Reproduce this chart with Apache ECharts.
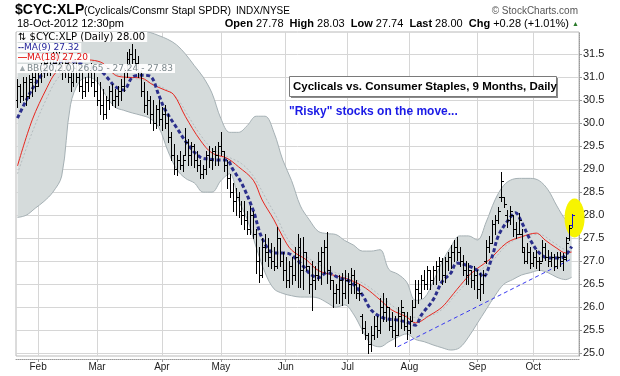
<!DOCTYPE html>
<html><head><meta charset="utf-8">
<script src="https://cdn.jsdelivr.net/npm/echarts@6/dist/echarts.min.js"></script>
<style>html,body{margin:0;padding:0;background:#fff}#c{width:620px;height:376px}</style>
</head><body><div id="c"></div>
<script>
// ---------- DATA ----------
const holidays = ['2012-02-20','2012-04-06','2012-05-28','2012-07-04','2012-09-03'];
const monthNames = ['Jan','Feb','Mar','Apr','May','Jun','Jul','Aug','Sep','Oct','Nov','Dec'];
const yTicks = [25.0,25.5,26.0,26.5,27.0,27.5,28.0,28.5,29.0,29.5,30.0,30.5,31.0,31.5];

const open = [30.5,30.8,30.6,30.9,30.6,30.9,31.0,30.8,31.1,31.2,
31.3,31.1,31.4,31.3,31.5,31.2,31.1,31.3,31.0,30.9,
31.2,31.0,30.8,30.7,30.9,31.1,30.9,30.7,30.5,30.4,
30.2,30.5,30.7,30.5,30.6,30.7,30.8,31.1,31.4,31.5,
31.4,31.3,31.1,30.7,30.4,30.5,30.2,30.0,30.3,30.1,
30.2,30.0,29.7,29.3,29.0,29.2,29.1,29.3,29.6,29.3,
29.5,29.2,29.1,28.9,29.0,29.3,29.2,29.4,29.3,29.5,
29.4,29.1,28.8,28.5,28.3,28.4,28.1,28.0,27.9,27.7,
28.0,27.6,27.0,26.7,27.3,27.2,27.1,27.0,26.9,27.5,
27.0,26.8,26.6,26.9,26.7,27.1,27.3,26.8,27.2,26.9,
26.5,26.6,26.7,27.0,27.2,27.3,26.8,26.6,26.3,26.4,
26.6,26.3,26.6,26.5,26.7,26.5,26.3,25.8,25.55,25.4,
25.2,25.4,25.6,25.5,26.0,25.9,26.0,25.6,25.5,25.4,
25.8,25.9,25.6,25.5,25.7,26.0,26.4,26.3,26.6,26.5,
26.8,26.6,26.8,26.9,27.0,26.7,27.0,27.1,27.2,27.3,
27.2,27.0,26.8,26.7,26.8,26.6,26.7,26.4,26.5,27.0,
27.3,27.4,27.8,27.9,28.4,28.4,28.0,27.9,28.0,27.7,
27.6,27.6,27.2,27.0,27.2,26.95,27.1,27.0,27.0,27.3,
27.1,27.0,27.1,26.9,27.1,27.0,27.1,27.5,27.78];
const high = [30.95,30.85,31.0,31.0,31.05,31.1,31.15,31.2,31.3,31.4,
31.45,31.5,31.55,31.6,31.55,31.4,31.45,31.4,31.2,31.3,
31.35,31.25,31.1,31.0,31.2,31.3,31.1,31.0,30.9,30.75,
30.6,30.8,30.85,30.75,30.8,30.95,31.2,31.55,31.6,31.72,
31.6,31.45,31.15,30.9,30.7,30.6,30.5,30.4,30.5,30.35,
30.4,30.2,29.8,29.55,29.3,29.4,29.3,29.9,29.65,29.6,
29.55,29.4,29.2,29.1,29.4,29.5,29.45,29.5,29.6,29.8,
29.4,29.2,28.9,28.7,28.6,28.5,28.3,28.3,28.1,28.2,
28.1,27.7,27.3,27.5,27.6,27.5,27.4,27.3,27.74,27.5,
27.2,27.1,27.0,27.1,27.3,27.6,27.5,27.53,27.2,26.9,
27.0,26.9,27.2,27.3,27.45,27.63,26.9,26.6,26.5,26.7,
26.75,26.8,26.75,26.85,26.8,26.6,26.5,25.85,25.7,25.45,
25.6,25.8,25.8,26.2,26.3,26.2,26.0,25.9,25.8,26.0,
26.16,25.9,25.9,25.8,26.16,26.6,26.6,26.7,26.8,26.9,
26.8,26.9,27.0,27.1,27.07,27.1,27.2,27.35,27.45,27.53,
27.3,27.13,27.0,26.95,26.8,26.9,26.8,26.74,26.8,27.46,
27.55,27.9,28.0,28.18,28.94,28.4,28.11,28.2,28.0,27.85,
28.05,27.7,27.3,27.4,27.3,27.2,27.25,27.1,27.46,27.4,
27.25,27.2,27.15,27.2,27.2,27.18,27.53,27.79,28.03];
const low = [30.35,30.45,30.5,30.4,30.55,30.6,30.7,30.8,30.9,31.0,
31.05,31.05,31.15,31.2,31.1,30.95,31.0,30.9,30.7,30.8,
30.9,30.7,30.55,30.6,30.7,30.8,30.6,30.4,30.2,30.1,
30.12,30.3,30.4,30.35,30.4,30.5,30.7,31.0,31.25,31.3,
31.2,31.0,30.6,30.25,30.2,30.0,29.85,29.9,29.95,29.85,
29.9,29.6,29.2,28.9,28.87,29.0,28.95,29.3,29.1,29.1,
29.05,28.95,28.8,28.8,28.9,29.05,29.0,29.1,29.1,29.3,
28.95,28.6,28.4,28.1,28.0,27.95,27.8,27.7,27.6,27.6,
27.5,26.75,26.55,26.65,27.0,26.9,26.85,26.8,26.85,26.9,
26.6,26.45,26.45,26.5,26.6,26.45,26.45,26.4,26.8,26.3,
25.95,26.4,26.6,26.5,26.75,26.52,26.4,26.0,26.1,26.1,
26.05,26.2,26.1,26.3,26.3,26.2,26.15,25.45,25.3,25.0,
25.05,25.3,25.35,25.45,25.7,25.7,25.5,25.35,25.15,25.4,
25.55,25.5,25.3,25.45,25.7,26.0,26.1,26.2,26.4,26.4,
26.4,26.5,26.5,26.6,26.5,26.55,26.8,26.85,27.0,27.03,
26.9,26.7,26.5,26.5,26.45,26.4,26.2,26.16,26.3,26.96,
27.2,27.4,27.6,27.83,28.3,28.18,27.74,27.8,27.55,27.5,
27.6,27.2,26.95,26.95,26.85,26.9,26.85,26.8,27.0,27.03,
26.9,26.9,26.81,26.85,26.9,26.81,27.03,27.46,27.74];
const close = [30.8,30.6,30.9,30.6,30.95,31.0,30.8,31.1,31.2,31.3,
31.1,31.4,31.3,31.5,31.2,31.1,31.3,31.0,30.9,31.2,
31.0,30.8,30.7,30.9,31.1,30.9,30.7,30.5,30.4,30.2,
30.5,30.7,30.5,30.6,30.7,30.8,31.1,31.4,31.5,31.4,
31.3,31.1,30.7,30.4,30.5,30.2,30.0,30.3,30.1,30.2,
30.0,29.7,29.3,29.0,29.2,29.1,29.2,29.6,29.3,29.5,
29.2,29.1,28.9,29.0,29.3,29.2,29.4,29.3,29.5,29.4,
29.1,28.8,28.5,28.3,28.4,28.1,28.0,27.9,27.7,28.0,
27.6,27.0,26.7,27.3,27.2,27.1,27.0,26.9,27.5,27.0,
26.8,26.6,26.9,26.7,27.1,27.3,26.8,27.2,26.9,26.5,
26.6,26.7,27.0,27.2,27.3,26.8,26.6,26.3,26.4,26.6,
26.3,26.6,26.5,26.7,26.5,26.3,26.3,25.55,25.4,25.2,
25.4,25.6,25.5,26.0,25.9,26.0,25.6,25.5,25.4,25.8,
26.0,25.6,25.5,25.7,26.0,26.4,26.3,26.6,26.5,26.8,
26.6,26.8,26.9,27.0,26.7,27.0,27.1,27.2,27.3,27.2,
27.0,26.8,26.7,26.8,26.6,26.7,26.4,26.5,26.7,27.3,
27.4,27.8,27.9,28.1,28.75,28.25,27.9,28.1,27.7,27.6,
27.9,27.3,27.0,27.2,26.95,27.1,27.0,26.95,27.3,27.1,
27.0,27.1,26.9,27.1,27.0,27.05,27.4,27.72,28.0];

// indicator lines: [day index, value]
const ma9 = [[0,30.11],[3,30.5],[6,30.85],[9,31.1],[13,31.3],[17,31.35],[21,31.3],[25,31.2],[28,31.15],[31,30.95],[33,30.8],[36,30.72],[39,31.0],[42,31.04],[45,31.02],[48,30.6],[50,30.3],[54,29.9],[58,29.52],[62,29.26],[65,29.22],[68,29.2],[71,29.2],[73,29.0],[76,28.7],[80,28.1],[83,27.5],[87,27.18],[91,27.18],[96,26.96],[99,26.74],[102,26.64],[105,26.75],[109,26.64],[113,26.55],[117,26.27],[120,25.94],[124,25.77],[129,25.72],[132,25.68],[135,25.61],[137,25.83],[141,26.16],[144,26.55],[147,26.74],[149,26.96],[152,26.92],[156,26.8],[158,26.66],[161,27.09],[163,27.53],[166,27.85],[169,28.05],[171,27.85],[174,27.46],[177,27.18],[180,27.07],[184,27.07],[186,27.13],[188,27.32]];
const ma18 = [[0,29.07],[5,30.07],[10,30.77],[13,31.1],[17,31.3],[21,31.38],[25,31.37],[29,31.3],[33,31.05],[36,31.0],[42,30.98],[46,30.83],[50,30.72],[53,30.62],[57,30.14],[62,29.63],[66,29.35],[71,29.24],[75,29.05],[80,28.76],[83,28.33],[87,27.9],[90,27.53],[93,27.24],[98,27.03],[102,26.8],[107,26.7],[113,26.59],[118,26.42],[123,26.16],[127,25.94],[132,25.79],[135,25.66],[140,25.83],[144,26.0],[147,26.22],[149,26.38],[154,26.74],[160,27.03],[166,27.4],[171,27.53],[176,27.61],[179,27.46],[183,27.28],[186,27.18],[188,27.2]];
const bbMid = [[0,28.9],[5,29.8],[10,30.55],[14,31.0],[20,31.3],[26,31.35],[32,31.1],[38,31.0],[44,30.9],[50,30.75],[54,30.55],[58,30.15],[62,29.75],[66,29.45],[71,29.28],[76,29.12],[80,28.85],[84,28.4],[88,27.95],[92,27.45],[97,27.15],[103,26.9],[108,26.75],[114,26.62],[119,26.45],[124,26.2],[129,25.95],[134,25.78],[139,25.8],[144,25.95],[149,26.3],[155,26.7],[161,27.0],[166,27.35],[172,27.55],[177,27.58],[182,27.4],[186,27.25],[188,27.24]];
const bbDays = [0,3,6,9,12,15,18,21,24,27,30,33,36,39,42,45,48,51,54,57,60,63,66,69,72,75,78,81,84,87,90,93,96,99,102,105,108,111,114,117,120,123,126,129,132,135,138,141,144,147,150,153,156,159,162,165,168,171,174,177,180,183,186,188];
const bbUpper = [32.4,32.45,32.5,32.5,32.5,32.45,32.4,32.4,32.35,32.3,32.2,32.15,32.1,32.05,32.0,31.97,31.9,31.82,31.7,31.5,31.25,31.0,30.65,30.1,29.8,29.8,29.95,30.15,30.15,29.8,29.2,28.75,28.2,27.9,27.65,27.6,27.58,27.45,27.35,27.22,27.22,27.25,26.82,26.72,26.55,26.15,26.2,26.55,26.98,27.31,27.55,27.55,27.46,27.85,28.33,28.65,28.78,28.8,28.8,28.75,28.55,28.2,27.9,27.83];
const bbLower = [27.95,28.0,28.15,28.3,28.5,28.85,30.4,30.9,31.0,30.9,30.6,30.35,30.28,30.22,30.17,30.1,29.9,29.4,29.0,28.8,28.7,28.5,28.5,28.75,28.9,28.33,27.9,27.3,26.75,26.4,26.3,26.25,26.22,26.22,26.2,26.1,26.0,26.05,25.85,25.5,25.2,25.14,25.25,25.35,25.42,25.3,25.25,25.18,25.12,25.07,25.12,25.35,25.65,25.95,26.25,26.5,26.6,26.7,26.75,26.8,26.75,26.65,26.6,26.65];
const trendLine = [[129,25.14],[188,27.05]];
const highlight = [[189,27.94]];

// ---------- BUILD ----------
function tradingDays(start, end, hol) {
  const out = [], d = new Date(start + 'T00:00:00Z'), e = new Date(end + 'T00:00:00Z');
  while (d <= e) {
    const wd = d.getUTCDay(), s = d.toISOString().slice(0, 10);
    if (wd !== 0 && wd !== 6 && hol.indexOf(s) < 0) out.push(s);
    d.setUTCDate(d.getUTCDate() + 1);
  }
  return out;
}
const dates = tradingDays('2012-01-23', '2012-10-18', holidays);
const last = dates.length - 1;
const isMonthStart = (idx) => idx > 0 && idx <= last && dates[idx].slice(5, 7) !== dates[idx - 1].slice(5, 7);

const ohlc = dates.map((d, i) => [i, open[i], high[i], low[i], close[i]]);
const lowerPts = bbDays.map((d, k) => [d, bbLower[k]]);
const widthPts = bbDays.map((d, k) => [d, +(bbUpper[k] - bbLower[k]).toFixed(3)]);

const chart = echarts.init(document.getElementById('c'), null, {renderer: 'canvas'});
const F = 'Liberation Sans, Arial, sans-serif';
const lastMA9 = ma9[ma9.length - 1][1], lastMA18 = ma18[ma18.length - 1][1];
const bbL = bbLower[bbLower.length - 1], bbU = bbUpper[bbUpper.length - 1], bbM = bbMid[bbMid.length - 1][1];
const chg = close[last] - close[last - 1];

const option = {
  animation: false,
  backgroundColor: '#fff',
  grid: {left: 16, right: 41, top: 32, bottom: 20, show: true, borderColor: '#b8b8b8', borderWidth: 1},
  xAxis: {
    type: 'category', data: dates, max: dates.length + 1, boundaryGap: true, offset: 3,
    axisLine: {show: true, onZero: false, lineStyle: {color: '#9a9a9a', type: 'dotted'}},
    axisTick: {show: true, interval: isMonthStart, alignWithLabel: true, length: 3, lineStyle: {color: '#9a9a9a'}},
    axisLabel: {interval: isMonthStart, formatter: v => monthNames[+v.slice(5, 7) - 1], fontSize: 10, color: '#222', margin: 3, fontFamily: F},
    splitLine: {show: true, interval: isMonthStart, alignWithLabel: true, lineStyle: {color: '#d6d6d6'}}
  },
  yAxis: {
    type: 'value', position: 'right', min: 24.94, max: 31.98,
    axisLine: {show: true, lineStyle: {color: '#9a9a9a', type: 'dotted'}},
    axisTick: {show: true, customValues: yTicks, length: 3, lineStyle: {color: '#9a9a9a'}},
    axisLabel: {customValues: yTicks, formatter: v => v.toFixed(1), fontSize: 11, color: '#222', margin: 4, fontFamily: F},
    splitLine: {show: true, lineStyle: {color: '#d6d6d6'}}
  },
  series: [
    {name: 'BB lower', type: 'line', data: lowerPts, stack: 'bb', smooth: 0.35, symbol: 'none', z: 1, silent: true,
      lineStyle: {color: '#a5b0b4', width: 1}},
    {name: 'BB band', type: 'line', data: widthPts, stack: 'bb', smooth: 0.35, symbol: 'none', z: 1, silent: true,
      lineStyle: {color: '#a5b0b4', width: 1}, areaStyle: {color: '#d5dbdb', opacity: 1}},
    {name: 'Highlight', type: 'custom', data: highlight, encode: {x: 0, y: 1}, z: 2, clip: false, silent: true,
      renderItem: (p, api) => {
        const pt = api.coord([api.value(0), api.value(1)]);
        return {type: 'circle', x: pt[0], y: pt[1], scaleY: 1.95, shape: {cx: 0, cy: 0, r: 10}, style: {fill: '#f7f400'}};
      }},
    {name: 'BB mid', type: 'line', data: bbMid, smooth: 0.35, symbol: 'none', z: 3, silent: true,
      lineStyle: {color: '#b5bcbf', width: 1, type: [2, 2]}},
    {name: 'MA(18)', type: 'line', data: ma18, smooth: 0.35, symbol: 'none', z: 3, silent: true,
      lineStyle: {color: '#e8271f', width: 1}},
    {name: 'MA(9)', type: 'line', data: ma9, smooth: 0.35, symbol: 'none', z: 3, silent: true,
      lineStyle: {color: '#2b2f8c', width: 3, type: [4, 2.5]}},
    {name: 'Trend', type: 'line', data: trendLine, symbol: 'none', z: 3, silent: true,
      lineStyle: {color: '#3a3af0', width: 1, type: [4, 3]}},
    {name: 'Price', type: 'custom', data: ohlc, encode: {x: 0, y: [1, 2, 3, 4]}, z: 5, clip: true, silent: true,
      renderItem: (p, api) => {
        const i = api.value(0);
        const pO = api.coord([i, api.value(1)]), pH = api.coord([i, api.value(2)]);
        const pL = api.coord([i, api.value(3)]), pC = api.coord([i, api.value(4)]);
        const x = Math.round(pH[0]) + 0.5;
        const col = i === last ? '#1414d0' : '#000';
        const yO = Math.round(pO[1]) + 0.5, yC = Math.round(pC[1]) + 0.5;
        return {type: 'group', children: [
          {type: 'line', shape: {x1: x, y1: Math.round(pH[1]), x2: x, y2: Math.round(pL[1]) + 1}, style: {stroke: col, lineWidth: 1}},
          {type: 'line', shape: {x1: x - 2.5, y1: yO, x2: x, y2: yO}, style: {stroke: col, lineWidth: 1}},
          {type: 'line', shape: {x1: x, y1: yC, x2: x + 2.5, y2: yC}, style: {stroke: col, lineWidth: 1}}
        ]};
      }}
  ],
  graphic: [
    {type: 'text', z: 100, x: 15, y: 10, style: {text: '$CYC:XLP', font: 'bold 14px ' + F, fill: '#000', textVerticalAlign: 'middle', verticalAlign: 'middle'}},
    {type: 'text', z: 100, x: 84, y: 11, style: {text: '(Cyclicals/Consmr Stapl SPDR)', font: '10.5px ' + F, fill: '#000', textVerticalAlign: 'middle', verticalAlign: 'middle'}},
    {type: 'text', z: 100, x: 236, y: 11, style: {text: 'INDX/NYSE', font: '10px ' + F, fill: '#000', textVerticalAlign: 'middle', verticalAlign: 'middle'}},
    {type: 'text', z: 100, x: 578, y: 11, style: {text: '\u00A9 StockCharts.com', font: '10px ' + F, fill: '#555', textAlign: 'right', align: 'right', textVerticalAlign: 'middle', verticalAlign: 'middle'}},
    {type: 'text', z: 100, x: 17, y: 24, style: {text: '18-Oct-2012 12:30pm', font: '11px ' + F, fill: '#000', textVerticalAlign: 'middle', verticalAlign: 'middle'}},
    {type: 'text', z: 100, x: 579, y: 24, style: {
      text: '{b|Open} ' + open[last].toFixed(2) + '  {b|High} ' + high[last].toFixed(2) + '  {b|Low} ' + low[last].toFixed(2) +
        '  {b|Last} ' + close[last].toFixed(2) + '  {b|Chg} ' + (chg >= 0 ? '+' : '') + chg.toFixed(2) + ' (+' + (chg / close[last - 1] * 100).toFixed(2) + '%) {g|\u25B2}',
      font: '11px ' + F, fill: '#000', textAlign: 'right', align: 'right', textVerticalAlign: 'middle', verticalAlign: 'middle',
      rich: {b: {fontWeight: 'bold', fontSize: 11, fontFamily: F}, g: {fontSize: 7, fill: '#2a7a2a', color: '#2a7a2a'}}}},
    // legend
    {type: 'text', z: 100, x: 17, y: 37, style: {text: '\u21C5 $CYC:XLP (Daily) ' + close[last].toFixed(2), font: '10px DejaVu Sans', fill: '#000',
      backgroundColor: 'rgba(255,255,255,0.92)', padding: [0, 2, 0, 1], textVerticalAlign: 'middle', verticalAlign: 'middle'}},
    {type: 'text', z: 100, x: 17, y: 47.5, style: {text: '{m|--}MA(9) ' + lastMA9.toFixed(2), font: '9px DejaVu Sans', fill: '#1f1f99',
      backgroundColor: 'rgba(255,255,255,0.92)', padding: [0, 2, 0, 1], textVerticalAlign: 'middle', verticalAlign: 'middle',
      rich: {m: {fontWeight: 'bold', fontSize: 9, fill: '#2b2f8c', color: '#2b2f8c'}}}},
    {type: 'text', z: 100, x: 17, y: 58, style: {text: '{m|\u2014}MA(18) ' + lastMA18.toFixed(2), font: '9px DejaVu Sans', fill: '#e01010',
      backgroundColor: 'rgba(255,255,255,0.92)', padding: [0, 2, 0, 1], textVerticalAlign: 'middle', verticalAlign: 'middle',
      rich: {m: {fontWeight: 'bold', fontSize: 9, fill: '#e8271f', color: '#e8271f'}}}},
    {type: 'text', z: 100, x: 17, y: 68.5, style: {text: '{m|\u25B2}BB(20,2.0) ' + bbL.toFixed(2) + ' - ' + bbM.toFixed(2) + ' - ' + bbU.toFixed(2),
      font: '9px DejaVu Sans', fill: '#7c888c', backgroundColor: 'rgba(255,255,255,0.92)', padding: [0, 2, 0, 1],
      textVerticalAlign: 'middle', verticalAlign: 'middle', rich: {m: {fontSize: 9, fill: '#a0aaae', color: '#a0aaae'}}}},
    // annotations
    {type: 'rect', z: 100, shape: {x: 291, y: 78, width: 267, height: 20}, style: {fill: '#8a8a8a'}},
    {type: 'rect', z: 101, shape: {x: 289.5, y: 76.5, width: 267, height: 20}, style: {fill: '#fff', stroke: '#7a7a7a', lineWidth: 1}},
    {type: 'text', z: 102, x: 293, y: 87, style: {text: 'Cyclicals vs. Consumer Staples, 9 Months, Daily', font: 'bold 11.5px ' + F, fill: '#000', textVerticalAlign: 'middle', verticalAlign: 'middle'}},
    {type: 'text', z: 100, x: 289, y: 112, style: {text: '"Risky" stocks on the move...', font: 'bold 12px ' + F, fill: '#1a1ae6', textVerticalAlign: 'middle', verticalAlign: 'middle'}}
  ]
};
chart.setOption(option);
</script>
</body></html>
